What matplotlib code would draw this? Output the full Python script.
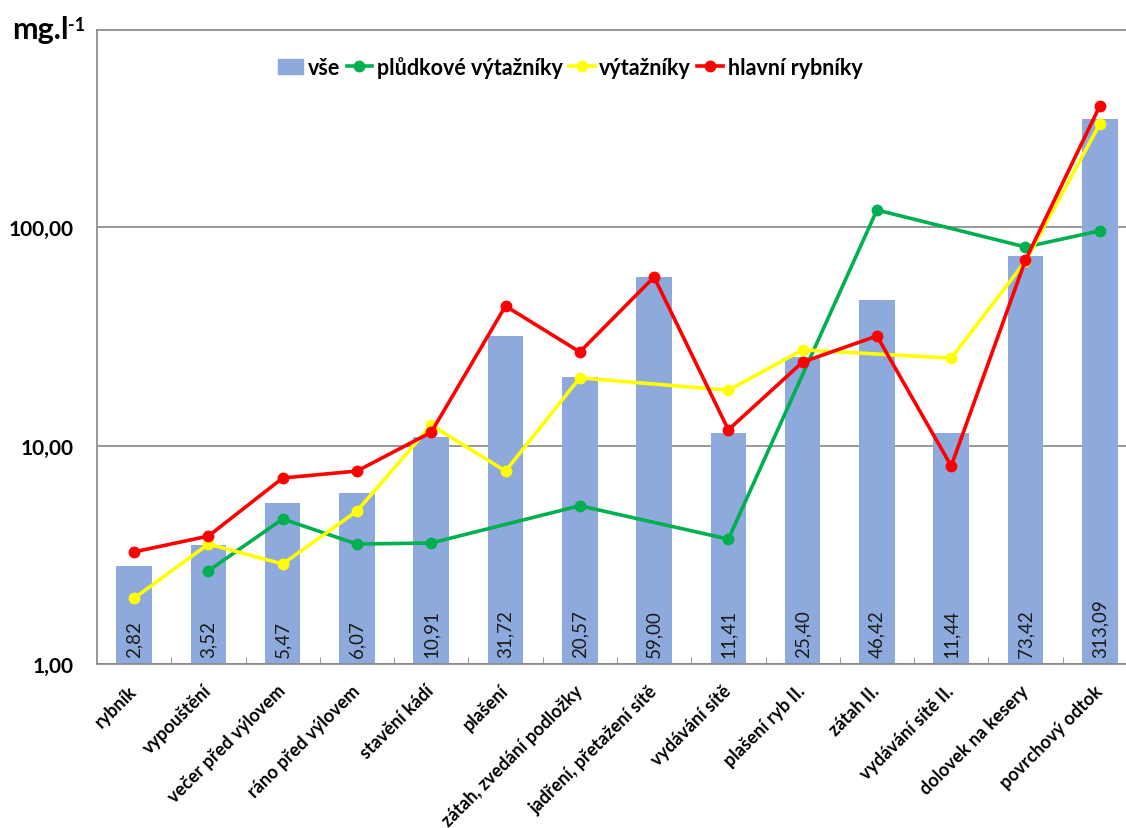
import numpy as np
import matplotlib
matplotlib.use("Agg")
import matplotlib.pyplot as plt
from matplotlib.lines import Line2D
from matplotlib.patches import Patch
from matplotlib.ticker import FixedLocator, NullLocator

plt.rcParams['font.family'] = ['Lato', 'DejaVu Sans']

# ---------- DATA ----------
categories = ["rybník", "vypouštění", "večer před výlovem", "ráno před výlovem",
              "stavění kádí", "plašení", "zátah, zvedání podložky",
              "jadření, přetažení sítě", "vydávání sítě", "plašení ryb II.",
              "zátah II.", "vydávání sítě II.", "dolovek na kesery", "povrchový odtok"]

vse = [2.82, 3.52, 5.47, 6.07, 10.91, 31.72, 20.57, 59.00, 11.41, 25.40,
       46.42, 11.44, 73.42, 313.09]

pludkove = [np.nan, 2.67, 4.61, 3.54, 3.58, np.nan, 5.30, np.nan, 3.73, np.nan,
            119.6, np.nan, 81.0, 96.0]
vytazniky = [2.00, 3.54, 2.87, 5.01, 12.4, 7.64, 20.4, np.nan, 17.9, 27.4,
             np.nan, 25.1, 69.8, 296.0]
hlavni = [3.26, 3.85, 7.10, 7.64, 11.5, 43.5, 26.8, 59.0, 11.8, 24.1,
          31.7, 8.06, 70.6, 358.0]

ytick_vals = [1, 10, 100]
ytick_labels = ["1,00", "10,00", "100,00"]

bar_color = "#8EA9DB"
series = [
    ("plůdkové výtažníky", pludkove, "#00B050"),
    ("výtažníky", vytazniky, "#FFFF00"),
    ("hlavní rybníky", hlavni, "#FF0000"),
]

# ---------- FIGURE ----------
fig = plt.figure(figsize=(11.26, 8.29), dpi=100)
ax = fig.add_axes([0.0861, 0.1978, 0.9236, 0.7648])

x = np.arange(len(categories))
ax.bar(x, vse, width=0.48, color=bar_color, zorder=2)

# values written inside the bars
for xi, v in zip(x, vse):
    ax.annotate(f"{v:.2f}".replace(".", ","), xy=(xi, 1), xytext=(0, 5),
                textcoords="offset points", rotation=90, ha="center", va="bottom",
                fontsize=13.5, color="#1a1a1a", zorder=5)

# lines skip the missing points and connect the rest
for name, vals, col in series:
    vals = np.array(vals, dtype=float)
    ok = ~np.isnan(vals)
    ax.plot(x[ok], vals[ok], color=col, lw=2.6, marker="o", ms=7.5, zorder=4)

ax.set_yscale("log")
ax.set_ylim(1, 797)
ax.set_xlim(-0.5, 13.5)

ax.yaxis.set_major_locator(FixedLocator(ytick_vals))
ax.yaxis.set_minor_locator(NullLocator())
ax.set_yticklabels(ytick_labels, fontsize=15, fontweight="bold")
ax.tick_params(axis="y", length=0, pad=17)
ax.grid(axis="y", color="#868686", lw=1.2, zorder=1)

ax.set_xticks(x)
ax.set_xticklabels(categories, rotation=45, ha="right", va="center",
                   rotation_mode="anchor", fontsize=13, fontweight="bold")
ax.tick_params(axis="x", length=0, pad=17)
ax.set_xticks(np.arange(0.5, 13, 1), minor=True)
ax.tick_params(axis="x", which="minor", direction="in", length=5, color="#868686")

for side in ["left", "bottom", "top"]:
    ax.spines[side].set_color("#868686")
    ax.spines[side].set_linewidth(1.2)
ax.spines["right"].set_visible(False)

# unit label in the top left corner
fig.text(12 / 1126, 1 - 39 / 829, "mg.l", fontsize=22, fontweight="bold", va="baseline")
fig.text(68 / 1126, 1 - 31 / 829, "-1", fontsize=13, fontweight="bold", va="baseline")

handles = [Patch(color=bar_color)]
labels = ["vše"]
for name, vals, col in series:
    handles.append(Line2D([], [], color=col, lw=2.6, marker="o", ms=7.5))
    labels.append(name)
leg = fig.legend(handles, labels, loc="center", bbox_to_anchor=(570 / 1126, 1 - 68 / 829),
                 ncol=4, frameon=False, handlelength=1.2, handletextpad=0.2,
                 columnspacing=0.3, prop={"weight": "bold", "size": 15.5})

fig.savefig("out.png", dpi=100)
